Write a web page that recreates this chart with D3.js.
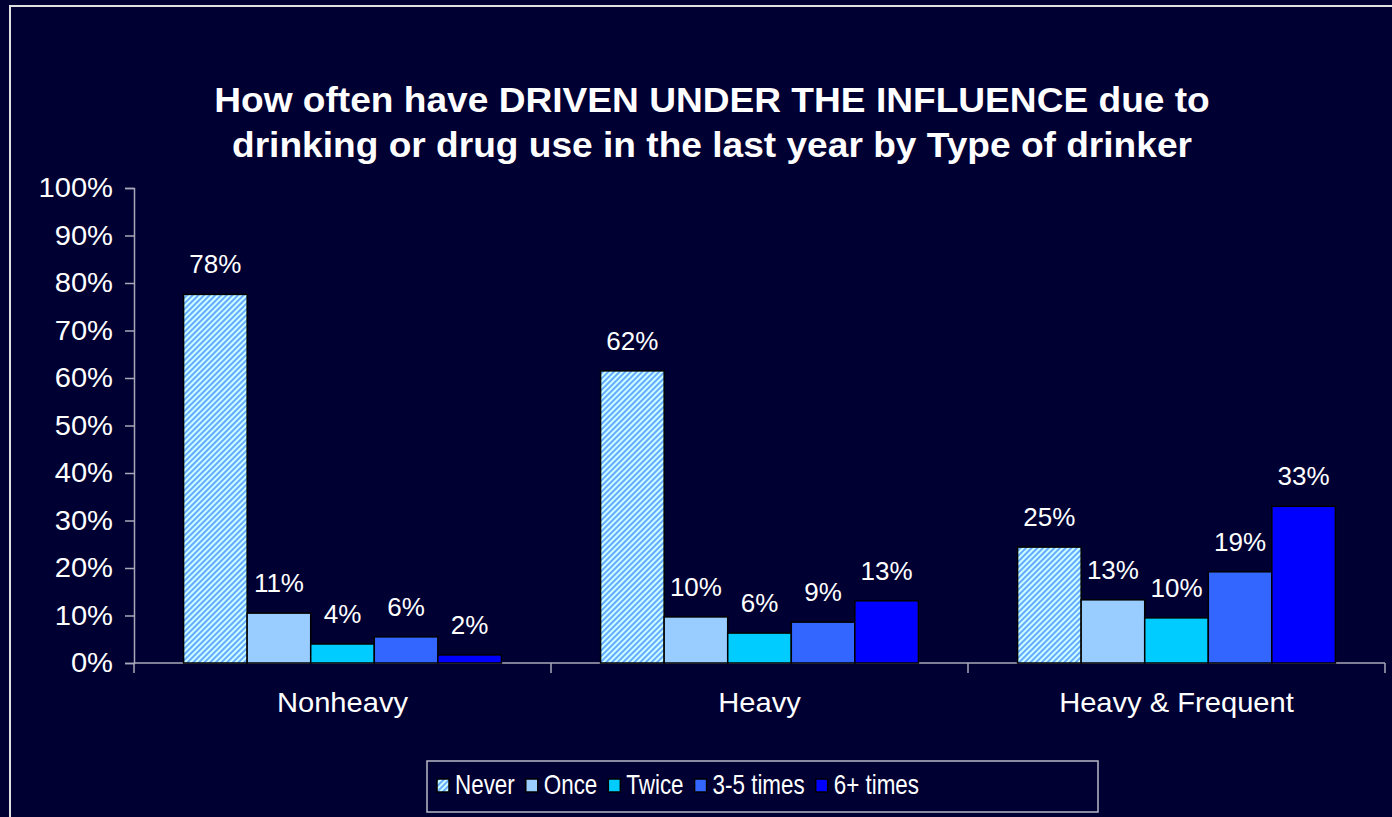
<!DOCTYPE html>
<html>
<head>
<meta charset="utf-8">
<script src="https://cdn.jsdelivr.net/npm/d3@7"></script>
<style>
  html, body { margin: 0; padding: 0; background: #000033; }
  svg text { font-family: "Liberation Sans", Arial, sans-serif; fill: #fff; }
</style>
</head>
<body>
<div id="chart"></div>
<script>
// drinker types (x groups)
const categories = ["Nonheavy", "Heavy", "Heavy & Frequent"];
// frequency series
const seriesNames = ["Never", "Once", "Twice", "3-5 times", "6+ times"];
const seriesColors = ["url(#hatch)", "#99ccff", "#00ccff", "#3366ff", "#0000ff"];
// bar heights (percent), one row per category
const neverVals = [77.6, 61.5, 24.4];
const onceVals = [10.5, 9.7, 13.3];
const twiceVals = [4.0, 6.3, 9.5];
const threeFiveVals = [5.5, 8.6, 19.2];
const sixPlusVals = [1.7, 13.1, 33.0];
// printed data labels
const neverLabels = ["78%", "62%", "25%"];
const onceLabels = ["11%", "10%", "13%"];
const twiceLabels = ["4%", "6%", "10%"];
const threeFiveLabels = ["6%", "9%", "19%"];
const sixPlusLabels = ["2%", "13%", "33%"];
const yTicks = [0, 10, 20, 30, 40, 50, 60, 70, 80, 90, 100];
const titleLines = [
    "How often have DRIVEN UNDER THE INFLUENCE due to",
    "drinking or drug use in the last year by Type of drinker"
];

const allVals = [neverVals, onceVals, twiceVals, threeFiveVals, sixPlusVals];
const allLabels = [neverLabels, onceLabels, twiceLabels, threeFiveLabels, sixPlusLabels];

const data = [];
categories.forEach((c, ci) => {
    seriesNames.forEach((s, si) => {
        data.push({ cat: c, series: s, value: allVals[si][ci], label: allLabels[si][ci], color: seriesColors[si] });
    });
});

const width = 1392, height = 817;
const plot = { left: 134, right: 1385, top: 188, bottom: 663 };

const svg = d3.select("#chart").append("svg")
    .attr("width", width)
    .attr("height", height)
    .style("display", "block")
    .style("background", "#000033");

// hatch for "Never"
const defs = svg.append("defs");
const pat = defs.append("pattern")
    .attr("id", "hatch")
    .attr("patternUnits", "userSpaceOnUse")
    .attr("width", 4)
    .attr("height", 4)
    .attr("patternTransform", "rotate(45)");
pat.append("rect").attr("width", 4).attr("height", 4).attr("fill", "#ccffff");
pat.append("line").attr("x1", 1).attr("y1", 0).attr("x2", 1).attr("y2", 4)
    .attr("stroke", "#4d94ff").attr("stroke-width", 1.6);

// stretch/squeeze text horizontally like the original render
function squeeze(sel, factor) {
    sel.each(function() {
        const w = this.getComputedTextLength();
        d3.select(this).attr("textLength", w * factor).attr("lengthAdjust", "spacingAndGlyphs");
    });
}

// outer frame
svg.append("rect")
    .attr("x", 10).attr("y", 6)
    .attr("width", 1500).attr("height", 900)
    .attr("fill", "none")
    .attr("stroke", "#e0e0e0")
    .attr("stroke-width", 2);

// title
svg.selectAll("text.title")
    .data(titleLines)
    .join("text")
    .attr("class", "title")
    .attr("x", 712)
    .attr("y", (d, i) => 112 + i * 45)
    .attr("text-anchor", "middle")
    .attr("font-size", "35px")
    .attr("font-weight", "bold")
    .text(d => d)
    .call(squeeze, 1.06);

const x0 = d3.scaleBand()
    .domain(categories)
    .range([plot.left, plot.right]);

const x1 = d3.scaleBand()
    .domain(seriesNames)
    .range([0, x0.bandwidth()])
    .paddingOuter(0.78);

const y = d3.scaleLinear()
    .domain([0, 100])
    .range([plot.bottom, plot.top]);

// y axis
const yAxis = svg.append("g")
    .attr("transform", `translate(${plot.left},0)`)
    .call(d3.axisLeft(y).tickValues(yTicks).tickFormat(d => d + "%").tickSize(9).tickPadding(12));
yAxis.select(".domain").attr("stroke", "#a8a8b8").attr("stroke-width", 1.5);
yAxis.selectAll(".tick line").attr("stroke", "#a8a8b8").attr("stroke-width", 1.5);
yAxis.selectAll(".tick text")
    .attr("font-size", "28px")
    .attr("fill", "#fff")
    .call(squeeze, 1.04);

// x axis line + group separators
const xg = svg.append("g");
xg.append("line")
    .attr("x1", plot.left).attr("x2", plot.right)
    .attr("y1", plot.bottom).attr("y2", plot.bottom)
    .attr("stroke", "#a8a8b8").attr("stroke-width", 1.5);
xg.selectAll("line.sep")
    .data(categories)
    .join("line")
    .attr("class", "sep")
    .attr("x1", d => x0(d) + x0.bandwidth())
    .attr("x2", d => x0(d) + x0.bandwidth())
    .attr("y1", plot.bottom)
    .attr("y2", plot.bottom + 10)
    .attr("stroke", "#a8a8b8").attr("stroke-width", 1.5);
xg.append("line")
    .attr("x1", plot.left).attr("x2", plot.left)
    .attr("y1", plot.bottom).attr("y2", plot.bottom + 10)
    .attr("stroke", "#a8a8b8").attr("stroke-width", 1.5);
xg.selectAll("text.cat")
    .data(categories)
    .join("text")
    .attr("class", "cat")
    .attr("x", d => x0(d) + x0.bandwidth() / 2)
    .attr("y", 712)
    .attr("text-anchor", "middle")
    .attr("font-size", "28px")
    .text(d => d)
    .call(squeeze, 1.04);

// bars
svg.append("g")
    .selectAll("rect")
    .data(data)
    .join("rect")
    .attr("x", d => x0(d.cat) + x1(d.series))
    .attr("y", d => y(d.value))
    .attr("width", x1.bandwidth())
    .attr("height", d => y(0) - y(d.value))
    .attr("fill", d => d.color)
    .attr("stroke", "#000")
    .attr("stroke-width", 1.5);

// value labels
svg.append("g")
    .selectAll("text")
    .data(data)
    .join("text")
    .attr("x", d => x0(d.cat) + x1(d.series) + x1.bandwidth() / 2)
    .attr("y", d => y(d.value) - 21)
    .attr("text-anchor", "middle")
    .attr("font-size", "25px")
    .text(d => d.label)
    .call(squeeze, 1.04);

// legend
const legend = svg.append("g");
legend.append("rect")
    .attr("x", 427).attr("y", 761)
    .attr("width", 671).attr("height", 51)
    .attr("fill", "none")
    .attr("stroke", "#b8b8c8")
    .attr("stroke-width", 1.5);
let lx = 437;
seriesNames.forEach((s, i) => {
    legend.append("rect")
        .attr("x", lx).attr("y", 779)
        .attr("width", 12).attr("height", 13)
        .attr("fill", seriesColors[i])
        .attr("stroke", "#000")
        .attr("stroke-width", 1.5);
    const t = legend.append("text")
        .attr("x", lx + 18)
        .attr("y", 794)
        .attr("font-size", "28px")
        .text(s)
        .call(squeeze, 0.8);
    lx += 18 + +t.attr("textLength") + 11;
});
</script>
</body>
</html>
